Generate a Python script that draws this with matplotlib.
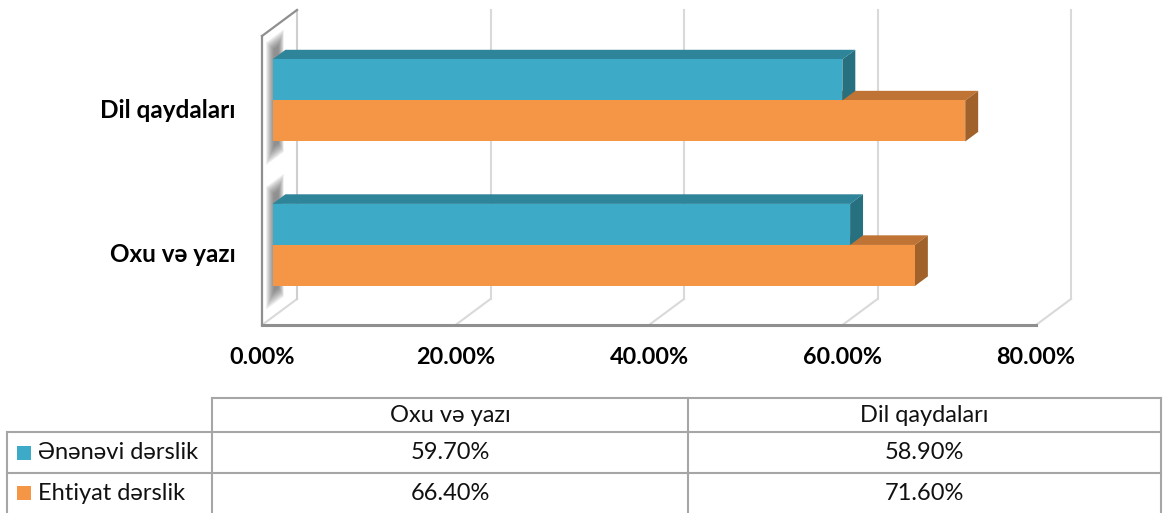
import numpy as np
import matplotlib.pyplot as plt
from matplotlib.patches import Polygon

plt.rcParams['font.family'] = ['Lato', 'DejaVu Sans']

# data
categories = ['Oxu və yazı', 'Dil qaydaları']
series_names = ['Ənənəvi dərslik', 'Ehtiyat dərslik']
traditional = [59.7, 58.9]
reserve = [66.4, 71.6]
x_ticks = [0, 20, 40, 60, 80]

front_cols = ['#3dabc8', '#f59646']
top_cols = ['#2e8499', '#bf7334']
side_cols = ['#26707f', '#a0622a']

W, H = 1163, 513
fig = plt.figure(figsize=(W / 100, H / 100), dpi=100)

ax = fig.add_axes([262 / W, 1 - 325 / H, 774 / W, 289 / H])
ax.set_xlim(0, 80)
ax.set_ylim(-0.5, 1.5)
for s in ax.spines.values():
    s.set_visible(False)

# depth vector (front plane -> back wall) in data units
DX = 35 / 9.675
DY = 26 / 144.5
f0, f1 = 0.3, 0.67      # bar depth range
BH = 0.284              # bar thickness

dark = '#8f8f8f'
light = '#d9d9d9'

# back wall gridlines and floor
for t in x_ticks:
    if t > 0:
        ax.plot([t + DX, t + DX], [-0.5 + DY, 1.5 + DY], color=light, lw=1.5, clip_on=False, zorder=1)
    ax.plot([t, t + DX], [-0.5, -0.5 + DY], color=light, lw=1.5, clip_on=False, zorder=1)
ax.plot([DX, DX], [-0.5 + DY, 1.5 + DY], color='#cfcfcf', lw=1.5, clip_on=False, zorder=1)
ax.plot([0, 80], [-0.5, -0.5], color=dark, lw=2.2, clip_on=False, zorder=2)
ax.plot([0, 0], [-0.5, 1.5], color=dark, lw=1.6, clip_on=False, zorder=2)
ax.plot([0, DX], [1.5, 1.5 + DY], color=dark, lw=1.6, clip_on=False, zorder=2)

# soft shadows on the side wall
y = np.arange(len(categories))
for c in y:
    lo = c - BH - 0.13
    hi = c + BH + 0.15
    for k in range(8):
        sh = k * 0.012
        d0, d1 = 0.12 + k * 0.03, 0.62 - k * 0.02
        poly = Polygon([(d0 * DX, lo + sh + d0 * DY), (d1 * DX, lo + sh + d1 * DY),
                        (d1 * DX, hi - sh + d1 * DY), (d0 * DX, hi - sh + d0 * DY)],
                       closed=True, facecolor='#444444', alpha=0.1, lw=0, clip_on=False, zorder=2)
        ax.add_patch(poly)


def bar3d(vals, yoff, i, z):
    x0 = f0 * DX
    d = f1 - f0
    for c, v in zip(y, vals):
        yb = c + yoff + f0 * DY
        yt = yb + BH
        x1 = x0 + v
        ax.add_patch(Polygon([(x0, yt), (x1, yt), (x1 + d * DX, yt + d * DY), (x0 + d * DX, yt + d * DY)],
                             closed=True, facecolor=top_cols[i], lw=0, clip_on=False, zorder=z))
        ax.add_patch(Polygon([(x1, yb), (x1, yt), (x1 + d * DX, yt + d * DY), (x1 + d * DX, yb + d * DY)],
                             closed=True, facecolor=side_cols[i], lw=0, clip_on=False, zorder=z))
    ax.barh(y + yoff + f0 * DY + BH / 2, vals, height=BH, left=x0, color=front_cols[i],
            lw=0, clip_on=False, zorder=z)


# orange first, cyan on top of it
bar3d(reserve, -BH, 1, 3)
bar3d(traditional, 0, 0, 4)

ax.set_xticks(x_ticks)
ax.set_xticklabels(['%.2f%%' % t for t in x_ticks], fontsize=16.8, fontweight='bold')
ax.set_yticks(y)
ax.set_yticklabels(categories, fontsize=17.5, fontweight='bold')
ax.tick_params(axis='x', length=0, pad=16)
ax.tick_params(axis='y', length=0, pad=19)

# data table
tab = fig.add_axes([0, 0, 1, 1], zorder=-1)
tab.set_xlim(0, W)
tab.set_ylim(H, 0)
tab.axis('off')
gc = '#a6a6a6'
col_x = [7, 212, 688, 1161]
row_y = [398, 432, 473, 513]
tab.plot([212, 1161], [398, 398], color=gc, lw=1.5)
for ry in row_y[1:3]:
    tab.plot([7, 1161], [ry, ry], color=gc, lw=1.5)
tab.plot([7, 7], [432, 513], color=gc, lw=1.5)
for cx in col_x[1:]:
    tab.plot([cx, cx], [398, 513], color=gc, lw=1.5)

centers = [(col_x[1] + col_x[2]) / 2, (col_x[2] + col_x[3]) / 2]
for j, cat in enumerate(categories):
    tab.text(centers[j], 415, cat, ha='center', va='center', fontsize=17, color='#111111')
for i, (name, vals) in enumerate(zip(series_names, [traditional, reserve])):
    yc = (row_y[i + 1] + row_y[i + 2]) / 2
    tab.add_patch(plt.Rectangle((17, yc - 7), 14, 14, color=front_cols[i], lw=0))
    tab.text(38, yc, name, ha='left', va='center', fontsize=17, color='#111111')
    for j, v in enumerate(vals):
        tab.text(centers[j], yc, '%.2f%%' % v, ha='center', va='center', fontsize=17, color='#111111')

fig.savefig('out.png', dpi=100)
